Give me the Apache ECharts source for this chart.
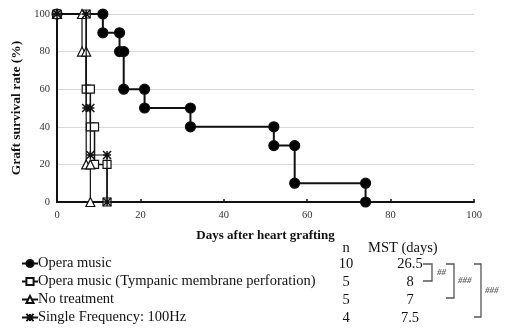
<!DOCTYPE html>
<html><head><meta charset="utf-8">
<script src="https://cdn.jsdelivr.net/npm/echarts@6/dist/echarts.min.js"></script>
<style>html,body{margin:0;padding:0;background:#fff}#c{width:506px;height:329px}</style>
</head><body><div id="c"></div>
<script>
// Kaplan-Meier event times (days) and survival (%) after each event
const operaTimes = [0, 11, 15, 16, 21, 32, 52, 57, 74];
const operaSurv  = [100, 90, 80, 60, 50, 40, 30, 10, 0];
const tmpTimes = [0, 7, 8, 9, 12];
const tmpSurv  = [100, 60, 40, 20, 0];
const noTimes = [0, 6, 7, 8];
const noSurv  = [100, 80, 20, 0];
const sfTimes = [0, 7, 8, 12];
const sfSurv  = [100, 50, 25, 0];

const seriesNames = ['Opera music', 'Opera music (Tympanic membrane perforation)', 'No treatment', 'Single Frequency: 100Hz'];
const nValues = ['10', '5', '5', '4'];
const mstValues = ['26.5', '8', '7', '7.5'];
const xTicks = [0, 20, 40, 60, 80, 100];
const yTicks = [0, 20, 40, 60, 80, 100];

function steps(t, s) {
  const pts = [[t[0], s[0]]];
  for (let i = 1; i < t.length; i++) {
    pts.push([t[i], s[i - 1]]);
    pts.push([t[i], s[i]]);
  }
  return pts;
}

const FONT = '"Liberation Serif", "DejaVu Serif", serif';

const chart = echarts.init(document.getElementById('c'), null, {renderer: 'canvas'});

function mk(name, t, s, symbol, size, fill, lw, z) {
  return {
    name: name, type: 'line', data: steps(t, s), symbol: symbol, symbolSize: size,
    showAllSymbol: true, z: z,
    lineStyle: {color: '#111', width: lw},
    itemStyle: {color: fill, borderColor: '#111', borderWidth: 1.2},
    emphasis: {disabled: true}, animation: false
  };
}

const series = [
  mk(seriesNames[0], operaTimes, operaSurv, 'circle', 10, '#000', 2, 2),
  mk(seriesNames[1], tmpTimes, tmpSurv, 'rect', 8, '#fff', 1.5, 3),
  mk(seriesNames[2], noTimes, noSurv, 'triangle', 9, '#fff', 1.2, 4),
  mk(seriesNames[3], sfTimes, sfSurv, 'path://M0,0 L10,10 M10,0 L0,10 M5,0 L5,10 M0,5 L10,5', 8, '#111', 1.2, 5)
];
series[3].itemStyle = {color: '#fff', borderColor: '#111', borderWidth: 1.5};

// table and significance brackets
const rowY = [264, 282, 300, 318];
const graphic = [];
const TF = '14.5px ' + FONT;
graphic.push({type: 'text', x: 346, y: 248, style: {text: 'n', font: TF, fill: '#111', align: 'center', verticalAlign: 'middle'}});
graphic.push({type: 'text', x: 368, y: 248, style: {text: 'MST (days)', font: TF, fill: '#111', verticalAlign: 'middle'}});
for (let i = 0; i < 4; i++) {
  graphic.push({type: 'text', x: 346, y: rowY[i], style: {text: nValues[i], font: TF, fill: '#111', align: 'center', verticalAlign: 'middle'}});
  graphic.push({type: 'text', x: 410, y: rowY[i], style: {text: mstValues[i], font: TF, fill: '#111', align: 'center', verticalAlign: 'middle'}});
}
function bracket(x1, x2, y1, y2, label, lx) {
  graphic.push({type: 'polyline', shape: {points: [[x1, y1], [x2, y1], [x2, y2], [x1, y2]]}, style: {stroke: '#555', lineWidth: 1.3, fill: null}});
  graphic.push({type: 'text', x: lx, y: (y1 + y2) / 2, style: {text: label, font: 'italic bold 9px ' + FONT, fill: '#666', verticalAlign: 'middle'}});
}
bracket(423, 432, 264, 281, '##', 437);
bracket(446, 454, 264, 298, '###', 458);
bracket(474, 481, 264, 317, '###', 485);

const legends = seriesNames.map((nm, i) => ({
  orient: 'horizontal', left: 21, top: rowY[i] - 8, padding: 0, itemWidth: 16, itemHeight: 9,
  data: [nm],
  textStyle: {fontFamily: FONT, fontSize: 14.5, color: '#111', padding: [0, 0, 0, -5]},
  selectedMode: false
}));

chart.setOption({
  animation: false,
  backgroundColor: '#fff',
  grid: {left: 57, right: 32, top: 14, bottom: 127},
  xAxis: {
    type: 'value', min: 0, max: 100, interval: 20,
    name: 'Days after heart grafting', nameLocation: 'middle', nameGap: 27,
    nameTextStyle: {fontFamily: FONT, fontWeight: 'bold', fontSize: 13, color: '#111'},
    axisLine: {show: true, lineStyle: {color: '#111', width: 2}},
    axisTick: {show: true, inside: true, length: 3, lineStyle: {color: '#111', width: 1.5}},
    axisLabel: {fontFamily: FONT, fontSize: 10.5, color: '#333', margin: 8,
      formatter: v => xTicks.indexOf(v) >= 0 ? String(v) : ''},
    splitLine: {show: false}
  },
  yAxis: {
    type: 'value', min: 0, max: 100, interval: 20,
    name: 'Graft survival rate (%)', nameLocation: 'middle', nameGap: 27,
    nameTextStyle: {fontFamily: FONT, fontWeight: 'bold', fontSize: 13.5, color: '#111'},
    axisLine: {show: true, lineStyle: {color: '#111', width: 2}},
    axisTick: {show: false},
    axisLabel: {fontFamily: FONT, fontSize: 10.5, color: '#333', margin: 7,
      formatter: v => yTicks.indexOf(v) >= 0 ? String(v) : ''},
    splitLine: {show: true, lineStyle: {color: '#d9d9d9', width: 1.2}}
  },
  legend: legends,
  series: series,
  graphic: graphic
});
</script></body></html>
